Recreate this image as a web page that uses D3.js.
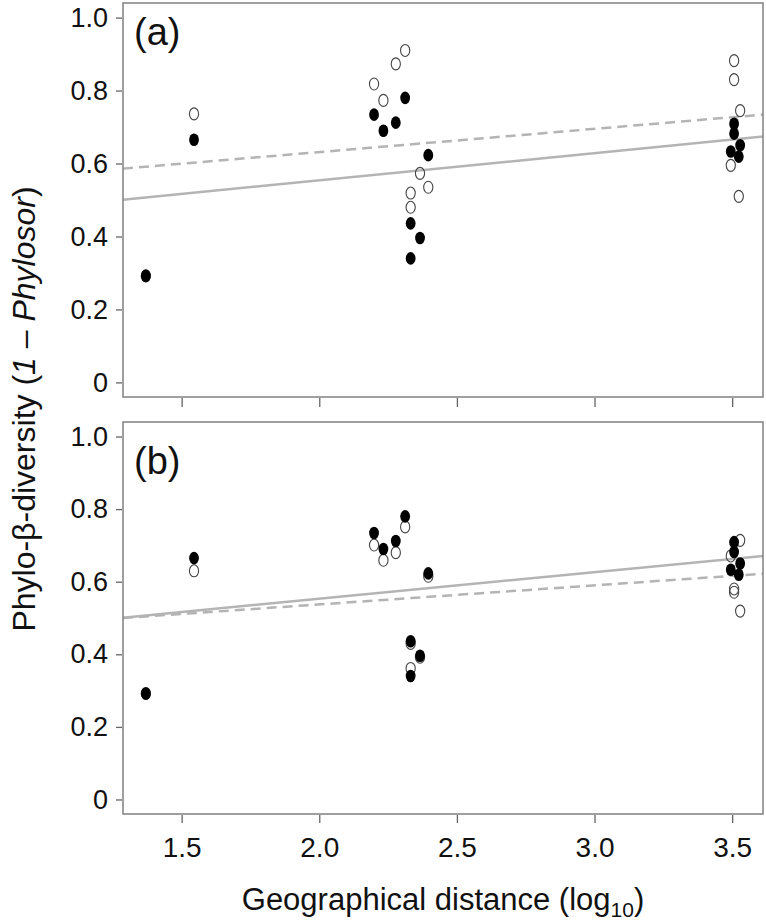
<!DOCTYPE html>
<html>
<head>
<meta charset="utf-8">
<script src="https://cdn.jsdelivr.net/npm/d3@7"></script>
<style>
  body { margin: 0; background: #fff; }
  svg text { font-family: Arial, "Liberation Sans", sans-serif; fill: #111; }
</style>
</head>
<body>
<svg id="chart" width="766" height="921"></svg>
<script>
// geographic distance (log10) shared by both panels
var distX = [1.37, 1.545, 2.199, 2.233, 2.278, 2.312, 2.396, 2.332, 2.366, 2.332, 3.507, 3.507, 3.529, 3.495, 3.524];
// filled points (same in a and b)
var filledY = [0.292, 0.665, 0.734, 0.690, 0.712, 0.780, 0.623, 0.436, 0.396, 0.340, 0.709, 0.682, 0.650, 0.633, 0.619];
// open points, panel a
var openYa = [0.292, 0.736, 0.818, 0.773, 0.873, 0.910, 0.535, 0.519, 0.573, 0.480, 0.882, 0.830, 0.745, 0.595, 0.510];
// open points, panel b
var openYb = [0.292, 0.630, 0.701, 0.659, 0.680, 0.751, 0.615, 0.430, 0.392, 0.361, 0.580, 0.714, 0.671, 0.571, 0.519];
var openXb = [1.37, 1.545, 2.199, 2.233, 2.278, 2.312, 2.396, 2.332, 2.366, 2.332, 3.507, 3.529, 3.495, 3.507, 3.529];

// fitted lines: value at left and right edge of the plot
var fitEnds = [1.287, 3.612];
var solidA = [0.501, 0.674], dashedA = [0.586, 0.734];
var solidB = [0.501, 0.671], dashedB = [0.500, 0.622];

var xTicks = [1.5, 2.0, 2.5, 3.0, 3.5];
var yTicks = [0, 0.2, 0.4, 0.6, 0.8, 1.0];

(function() {
	"use strict";
	var svg = d3.select("#chart");

	var left = 123, right = 763;
	var x = d3.scaleLinear().domain([1.287, 3.612]).range([left, right]);

	var panels = [
		{ label: "(a)", top: 3, bottom: 397, labelY: 45, openX: distX, openY: openYa, solid: solidA, dashed: dashedA, xLabels: false },
		{ label: "(b)", top: 422, bottom: 814, labelY: 474, openX: openXb, openY: openYb, solid: solidB, dashed: dashedB, xLabels: true }
	];

	panels.forEach(function(p) {
		var y = d3.scaleLinear().domain([-0.04, 1.04]).range([p.bottom, p.top]);
		var g = svg.append("g");

		// fit lines
		var line = d3.line().x(function(d) { return x(d[0]); }).y(function(d) { return y(d[1]); });
		g.append("path")
			.attr("d", line(fitEnds.map(function(v, i) { return [v, p.solid[i]]; })))
			.attr("fill", "none").attr("stroke", "#b4b4b4").attr("stroke-width", 2.5);
		g.append("path")
			.attr("d", line(fitEnds.map(function(v, i) { return [v, p.dashed[i]]; })))
			.attr("fill", "none").attr("stroke", "#b4b4b4").attr("stroke-width", 2.5)
			.attr("stroke-dasharray", "10,6");

		// open points first, filled on top
		g.selectAll(".open").data(p.openY).enter()
			.append("ellipse")
				.attr("class", "open")
				.attr("cx", function(d, i) { return x(p.openX[i]); })
				.attr("cy", function(d) { return y(d); })
				.attr("rx", 4.6).attr("ry", 6)
				.attr("fill", "none").attr("stroke", "#444").attr("stroke-width", 1.1);
		g.selectAll(".filled").data(filledY).enter()
			.append("ellipse")
				.attr("class", "filled")
				.attr("cx", function(d, i) { return x(distX[i]); })
				.attr("cy", function(d) { return y(d); })
				.attr("rx", 4.9).attr("ry", 6.3)
				.attr("fill", "#000");

		// frame
		g.append("rect")
			.attr("x", left).attr("y", p.top)
			.attr("width", right - left).attr("height", p.bottom - p.top)
			.attr("fill", "none").attr("stroke", "#808080").attr("stroke-width", 1.5);

		// y axis
		var yAxis = g.append("g").attr("transform", "translate(" + (left - 1) + ",0)")
			.call(d3.axisLeft(y).tickValues(yTicks).tickSize(6).tickPadding(8)
				.tickFormat(function(d) { return d === 0 ? "0" : d3.format(".1f")(d); }));
		yAxis.select(".domain").remove();
		yAxis.selectAll("line").attr("stroke", "#666").attr("stroke-width", 1.3);
		yAxis.selectAll("text").attr("font-size", 27).attr("fill", "#111")
			.attr("font-family", "Arial, 'Liberation Sans', sans-serif");

		// x axis
		var xAxis = g.append("g").attr("transform", "translate(0," + (p.bottom + 1) + ")")
			.call(d3.axisBottom(x).tickValues(xTicks).tickSize(p.xLabels ? 8 : 9).tickPadding(14)
				.tickFormat(p.xLabels ? d3.format(".1f") : ""));
		xAxis.select(".domain").remove();
		xAxis.selectAll("line").attr("stroke", "#666").attr("stroke-width", 1.3);
		xAxis.selectAll("text").attr("font-size", 28).attr("fill", "#111")
			.attr("font-family", "Arial, 'Liberation Sans', sans-serif");

		// panel label
		g.append("text")
			.attr("x", 134).attr("y", p.labelY)
			.attr("font-size", 38)
			.text(p.label);
	});

	// x title
	var xt = svg.append("text")
		.attr("x", (left + right) / 2).attr("y", 910)
		.attr("text-anchor", "middle")
		.attr("font-size", 31);
	xt.append("tspan").text("Geographical distance (log");
	xt.append("tspan").attr("font-size", 21).attr("dy", 7).text("10");
	xt.append("tspan").attr("dy", -7).text(")");

	// y title
	var yt = svg.append("text")
		.attr("transform", "translate(35,409) rotate(-90)")
		.attr("text-anchor", "middle")
		.attr("font-size", 32);
	yt.append("tspan").text("Phylo-β-diversity (");
	yt.append("tspan").attr("font-style", "italic").text("1 – Phylosor");
	yt.append("tspan").text(")");
})();
</script>
</body>
</html>
